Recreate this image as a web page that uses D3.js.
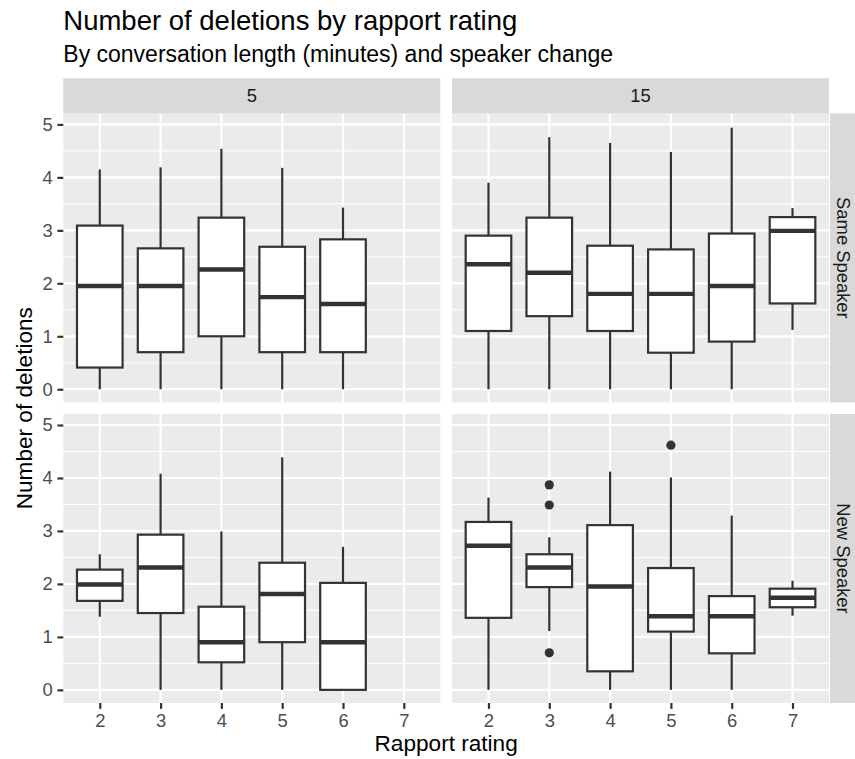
<!DOCTYPE html>
<html>
<head>
<meta charset="utf-8">
<script src="https://cdn.jsdelivr.net/npm/d3@7"></script>
<style>
  body { margin: 0; background: #fff; }
  svg { display: block; font-family: "Liberation Sans", Arial, sans-serif; }
</style>
</head>
<body>
<div class="chart"></div>
<script>
const ratings = [2, 3, 4, 5, 6, 7];
const convLengths = ["5", "15"];
const speakerChanges = ["Same Speaker", "New Speaker"];
const yTicks = [0, 1, 2, 3, 4, 5];
const yMinor = [0.5, 1.5, 2.5, 3.5, 4.5];

// [rating, lower whisker, Q1, median, Q3, upper whisker]
const boxSame5 = [
  [2, 0, 0.41, 1.95, 3.09, 4.15],
  [3, 0, 0.70, 1.95, 2.66, 4.19],
  [4, 0, 1.00, 2.26, 3.24, 4.54],
  [5, 0, 0.70, 1.74, 2.69, 4.18],
  [6, 0, 0.70, 1.61, 2.83, 3.43]
];
const boxSame15 = [
  [2, 0, 1.10, 2.36, 2.90, 3.90],
  [3, 0, 1.38, 2.20, 3.24, 4.76],
  [4, 0, 1.10, 1.80, 2.71, 4.65],
  [5, 0, 0.69, 1.80, 2.64, 4.48],
  [6, 0, 0.90, 1.95, 2.94, 4.94],
  [7, 1.12, 1.62, 2.99, 3.25, 3.42]
];
const boxNew5 = [
  [2, 1.38, 1.68, 1.99, 2.27, 2.56],
  [3, 0, 1.45, 2.31, 2.93, 4.08],
  [4, 0, 0.52, 0.90, 1.57, 2.99],
  [5, 0, 0.90, 1.81, 2.40, 4.39],
  [6, 0, 0, 0.90, 2.02, 2.70]
];
const boxNew15 = [
  [2, 0, 1.36, 2.72, 3.17, 3.63],
  [3, 1.11, 1.94, 2.31, 2.56, 2.88],
  [4, 0, 0.35, 1.95, 3.11, 4.12],
  [5, 0, 1.10, 1.39, 2.30, 4.01],
  [6, 0, 0.69, 1.39, 1.77, 3.29],
  [7, 1.40, 1.56, 1.74, 1.91, 2.06]
];
// [rating, value]
const outliersNew15 = [[3, 3.87], [3, 3.49], [3, 0.70], [5, 4.62]];

const width = 855, height = 759;
const colX = [63.3, 452];
const panelW = 377;
const rowY = [113.4, 414];
const panelH = 289;
const stripTop = 78.3;
const stripW = 26;
const ink = "#333333";

const panels = [
  {col: 0, row: 0, boxes: boxSame5, outliers: []},
  {col: 1, row: 0, boxes: boxSame15, outliers: []},
  {col: 0, row: 1, boxes: boxNew5, outliers: []},
  {col: 1, row: 1, boxes: boxNew15, outliers: outliersNew15}
];

const svg = d3.select(".chart").append("svg")
  .attr("width", width)
  .attr("height", height);

svg.append("rect").attr("width", width).attr("height", height).attr("fill", "#fff");

const xScales = colX.map(x0 => d3.scalePoint()
  .domain(ratings)
  .range([x0, x0 + panelW])
  .padding(0.6));

const yScales = rowY.map(y0 => d3.scaleLinear()
  .domain([-0.248, 5.208])
  .range([y0 + panelH, y0]));

panels.forEach(p => {
  const x = xScales[p.col], y = yScales[p.row];
  const g = svg.append("g");
  const x0 = colX[p.col], y0 = rowY[p.row];

  g.append("rect")
    .attr("x", x0).attr("y", y0)
    .attr("width", panelW).attr("height", panelH)
    .attr("fill", "#EBEBEB");

  g.selectAll(".minor").data(yMinor).join("line")
    .attr("x1", x0).attr("x2", x0 + panelW)
    .attr("y1", d => y(d)).attr("y2", d => y(d))
    .attr("stroke", "#fff").attr("stroke-width", 1.1);

  g.selectAll(".hmajor").data(yTicks).join("line")
    .attr("x1", x0).attr("x2", x0 + panelW)
    .attr("y1", d => y(d)).attr("y2", d => y(d))
    .attr("stroke", "#fff").attr("stroke-width", 2.2);

  g.selectAll(".vmajor").data(ratings).join("line")
    .attr("x1", d => x(d)).attr("x2", d => x(d))
    .attr("y1", y0).attr("y2", y0 + panelH)
    .attr("stroke", "#fff").attr("stroke-width", 2.2);

  const bw = x.step() * 0.75;
  const box = g.selectAll(".box").data(p.boxes).join("g");

  box.append("line")
    .attr("x1", d => x(d[0])).attr("x2", d => x(d[0]))
    .attr("y1", d => y(d[1])).attr("y2", d => y(d[2]))
    .attr("stroke", ink).attr("stroke-width", 2.2);
  box.append("line")
    .attr("x1", d => x(d[0])).attr("x2", d => x(d[0]))
    .attr("y1", d => y(d[4])).attr("y2", d => y(d[5]))
    .attr("stroke", ink).attr("stroke-width", 2.2);
  box.append("rect")
    .attr("x", d => x(d[0]) - bw / 2)
    .attr("y", d => y(d[4]))
    .attr("width", bw)
    .attr("height", d => y(d[2]) - y(d[4]))
    .attr("fill", "#fff")
    .attr("stroke", ink).attr("stroke-width", 2.2);
  box.append("line")
    .attr("x1", d => x(d[0]) - bw / 2).attr("x2", d => x(d[0]) + bw / 2)
    .attr("y1", d => y(d[3])).attr("y2", d => y(d[3]))
    .attr("stroke", ink).attr("stroke-width", 4.4);

  g.selectAll(".out").data(p.outliers).join("circle")
    .attr("cx", d => x(d[0])).attr("cy", d => y(d[1]))
    .attr("r", 4.6)
    .attr("fill", ink);
});

// top strips
convLengths.forEach((lab, i) => {
  svg.append("rect")
    .attr("x", colX[i]).attr("y", stripTop)
    .attr("width", panelW).attr("height", rowY[0] - stripTop)
    .attr("fill", "#D9D9D9");
  svg.append("text")
    .attr("x", colX[i] + panelW / 2)
    .attr("y", (stripTop + rowY[0]) / 2)
    .attr("dy", "0.36em")
    .attr("text-anchor", "middle")
    .attr("fill", "#1A1A1A")
    .style("font-size", "18.4px")
    .text(lab);
});

// right strips (cut by the picture's right edge)
const stripX = colX[1] + panelW + 1;
speakerChanges.forEach((lab, i) => {
  svg.append("rect")
    .attr("x", stripX).attr("y", rowY[i])
    .attr("width", stripW).attr("height", panelH)
    .attr("fill", "#D9D9D9");
  svg.append("text")
    .attr("transform", `translate(${stripX + 14},${rowY[i] + panelH / 2}) rotate(90)`)
    .attr("dy", "0.36em")
    .attr("text-anchor", "middle")
    .attr("fill", "#1A1A1A")
    .style("font-size", "18.4px")
    .text(lab);
});

// y axes
yScales.forEach(y => {
  const ax = svg.append("g")
    .attr("transform", `translate(${colX[0]},0)`)
    .call(d3.axisLeft(y).tickValues(yTicks).tickSize(5.9).tickPadding(4.7).tickFormat(d3.format("d")));
  ax.select(".domain").remove();
  ax.selectAll(".tick line").attr("stroke", ink).attr("stroke-width", 2.2);
  ax.selectAll(".tick text").attr("fill", "#4D4D4D")
    .style("font-size", "18.4px").style("font-family", "Liberation Sans, Arial, sans-serif");
});

// x axes
xScales.forEach(x => {
  const ax = svg.append("g")
    .attr("transform", `translate(0,${rowY[1] + panelH})`)
    .call(d3.axisBottom(x).tickSize(5.9).tickPadding(4.7));
  ax.select(".domain").remove();
  ax.selectAll(".tick line").attr("stroke", ink).attr("stroke-width", 2.2);
  ax.selectAll(".tick text").attr("fill", "#4D4D4D")
    .style("font-size", "18.4px").style("font-family", "Liberation Sans, Arial, sans-serif");
});

// titles
svg.append("text")
  .attr("x", colX[0]).attr("y", 29.5)
  .attr("fill", "#000")
  .style("font-size", "27.5px")
  .text("Number of deletions by rapport rating");

svg.append("text")
  .attr("x", colX[0]).attr("y", 62)
  .attr("fill", "#000")
  .style("font-size", "23px")
  .text("By conversation length (minutes) and speaker change");

svg.append("text")
  .attr("x", (colX[0] + colX[1] + panelW) / 2)
  .attr("y", 751)
  .attr("text-anchor", "middle")
  .attr("fill", "#000")
  .style("font-size", "22.6px")
  .text("Rapport rating");

svg.append("text")
  .attr("transform", `translate(31.5,${(rowY[0] + rowY[1] + panelH) / 2}) rotate(-90)`)
  .attr("text-anchor", "middle")
  .attr("fill", "#000")
  .style("font-size", "22.6px")
  .text("Number of deletions");
</script>
</body>
</html>
